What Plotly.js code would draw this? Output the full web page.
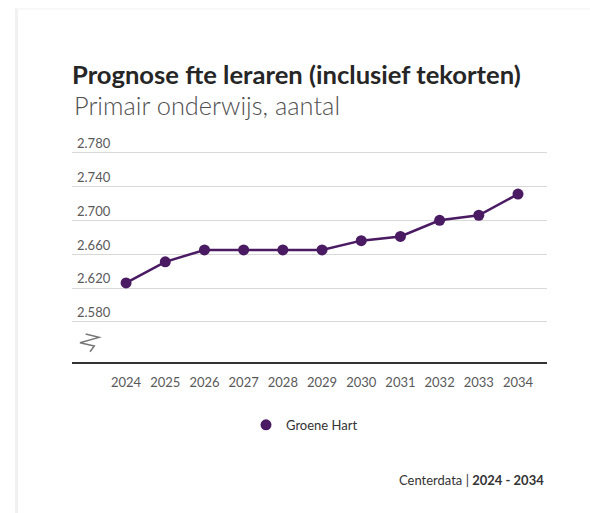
<!DOCTYPE html>
<html>
<head>
<meta charset="utf-8">
<script src="https://cdn.plot.ly/plotly-3.0.1.min.js"></script>
<style>
  html, body { margin: 0; padding: 0; background: #ffffff; }
  #chart { width: 590px; height: 513px; position: relative; }
  #card { position: absolute; left: 15px; top: 8px; width: 575px; height: 505px;
          border-left: 3px solid #f1f1f1; border-top: 2px solid #f8f8f8; pointer-events: none; z-index: 5; }
</style>
</head>
<body>
<div id="chart"></div>
<div id="card"></div>
<script>
const years = [2024, 2025, 2026, 2027, 2028, 2029, 2030, 2031, 2032, 2033, 2034];
const groeneHart = [2626, 2651, 2665, 2665, 2665, 2665, 2676, 2681, 2700, 2706, 2731];
const yTicks = [2580, 2620, 2660, 2700, 2740, 2780];
const seriesName = 'Groene Hart';
const titleText = 'Prognose fte leraren (inclusief tekorten)';
const subtitleText = 'Primair onderwijs, aantal';
const sourceText = 'Centerdata | <b>2024 - 2034</b>';

const purple = '#4a1a62';
const font = 'Lato, "Open Sans", sans-serif';

const traces = [
  { x: years, y: groeneHart, type: 'scatter', mode: 'lines', name: seriesName,
    line: { color: purple, width: 2.5 }, showlegend: false, hoverinfo: 'skip' },
  { x: years, y: groeneHart, type: 'scatter', mode: 'markers', name: seriesName,
    marker: { color: purple, size: 11 }, showlegend: true }
];

const L = 72, R = 43, T = 122.5, B = 151;
const W = 590, H = 513;
const pw = W - L - R, ph = H - T - B;
const px = v => (v - L) / pw;
const py = v => (H - B - v) / ph;

const zig = [[85.7,334],[99,337.3],[80,342.7],[94.3,346],[90,351.7]]
  .map((p,i) => (i ? 'L' : 'M') + px(p[0]).toFixed(4) + ',' + py(p[1]).toFixed(4)).join(' ');

const layout = {
  width: W, height: H,
  margin: { l: L, r: R, t: T, b: B },
  paper_bgcolor: '#ffffff', plot_bgcolor: '#ffffff',
  separators: ',.',
  font: { family: font, color: '#444', size: 13 },
  title: { text: '<b>' + titleText + '</b>', xref: 'container', yref: 'container',
           x: L / W, xanchor: 'left', y: 1 - 75 / H, yanchor: 'middle',
           font: { family: font, size: 25.6, color: '#262626' } },
  xaxis: { range: [2022.62, 2034.74], tickvals: years, ticktext: years.map(String),
           showgrid: false, zeroline: false, showline: true, linecolor: '#333', linewidth: 1.5,
           ticks: 'outside', ticklen: 8, tickcolor: 'rgba(0,0,0,0)',
           tickfont: { family: font, size: 13, color: '#595959' }, fixedrange: true },
  yaxis: { range: [2532.6, 2815], tickvals: yTicks, tickformat: ',d',
           showgrid: true, gridcolor: '#d9d9d9', gridwidth: 1, zeroline: false, showline: false,
           ticklabelposition: 'inside top', ticks: '', ticklabelstandoff: 2,
           tickfont: { family: font, size: 13, color: '#595959' }, fixedrange: true },
  legend: { orientation: 'h', x: px(246), xanchor: 'left', y: py(425), yanchor: 'middle',
            font: { family: font, size: 13, color: '#333' }, bgcolor: 'rgba(0,0,0,0)' },
  annotations: [
    { text: subtitleText, xref: 'paper', yref: 'paper', x: 0, xanchor: 'left',
      y: py(104), yanchor: 'middle', showarrow: false,
      font: { family: font, size: 25.4, color: '#505050', weight: 300 } },
    { text: sourceText, xref: 'paper', yref: 'paper', x: px(546), xanchor: 'right',
      y: py(480), yanchor: 'middle', showarrow: false,
      font: { family: font, size: 13, color: '#333' } }
  ],
  shapes: [
    { type: 'path', xref: 'paper', yref: 'paper', path: zig,
      line: { color: '#777', width: 1.5 } }
  ]
};

Plotly.newPlot('chart', traces, layout, { displayModeBar: false, staticPlot: true });
</script>
</body>
</html>
